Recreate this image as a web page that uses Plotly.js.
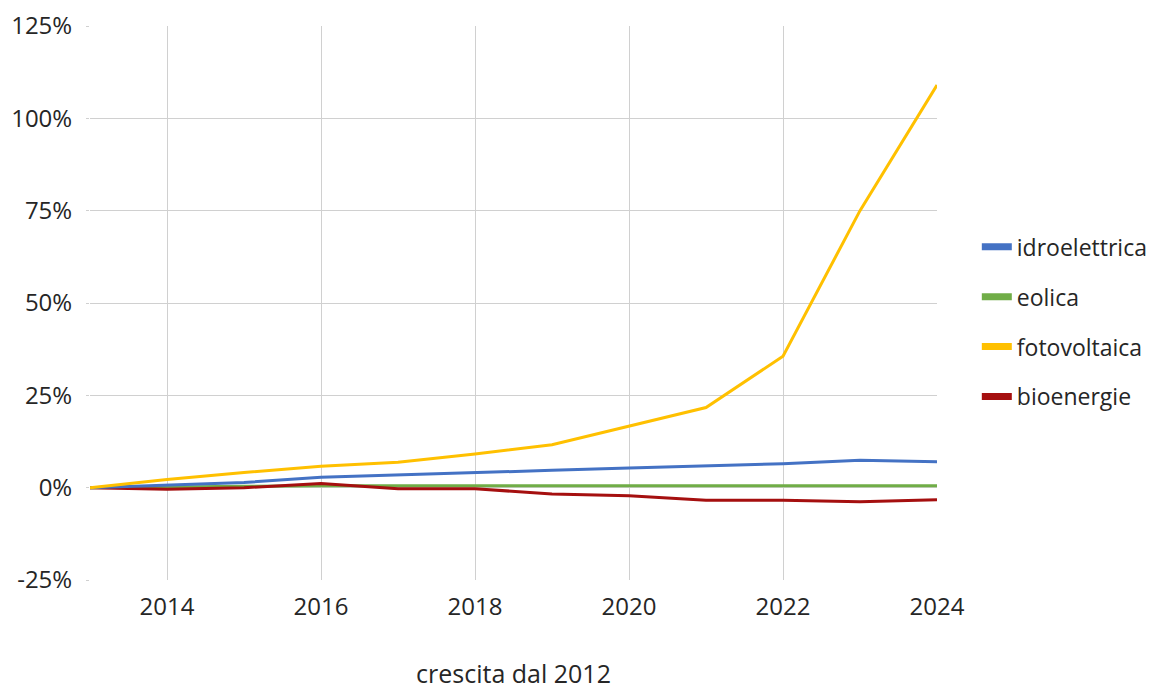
<!DOCTYPE html>
<html>
<head>
<meta charset="utf-8">
<script src="https://cdn.plot.ly/plotly-3.0.1.min.js"></script>
<style>html,body{margin:0;padding:0;background:#fff;}#chart{width:1166px;height:690px;}</style>
</head>
<body>
<div id="chart"></div>
<script>
const years = [2013, 2014, 2015, 2016, 2017, 2018, 2019, 2020, 2021, 2022, 2023, 2024];
const idroelettrica = [0, 0.6, 1.4, 2.8, 3.5, 4.2, 4.7, 5.3, 5.8, 6.5, 7.4, 7.0];
const eolica = [0, 0.3, 0.4, 0.5, 0.5, 0.5, 0.5, 0.5, 0.5, 0.5, 0.5, 0.5];
const fotovoltaica = [0, 2.2, 4.1, 5.8, 6.9, 9.1, 11.6, 16.6, 21.7, 35.6, 75.0, 109.0];
const bioenergie = [0, -0.4, 0, 1.1, -0.3, -0.3, -1.7, -2.2, -3.4, -3.4, -3.8, -3.3];
const seriesNames = ['idroelettrica', 'eolica', 'fotovoltaica', 'bioenergie'];
const seriesColors = ['#4472C4', '#70AD47', '#FFC000', '#A50F0F'];
const xTicks = [2014, 2016, 2018, 2020, 2022, 2024];
const yTicks = [-25, 0, 25, 50, 75, 100, 125];
const yTickLabels = ['-25%', '0%', '25%', '50%', '75%', '100%', '125%'];
const xTitle = 'crescita dal 2012';

const values = [idroelettrica, eolica, fotovoltaica, bioenergie];
// draw order: eolica, bioenergie underneath
const drawOrder = [1, 3, 0, 2];
const traces = drawOrder.map(i => ({
  x: years, y: values[i], name: seriesNames[i], type: 'scatter', mode: 'lines',
  line: {color: seriesColors[i], width: 3}, showlegend: false, hoverinfo: 'skip'
}));
// legend entries (thicker swatches, as in the reference)
seriesNames.forEach((n, i) => traces.push({
  x: [null], y: [null], name: n, type: 'scatter', mode: 'lines',
  line: {color: seriesColors[i], width: 7}, legendgroup: n, showlegend: true
}));

const fontFam = 'Open Sans, Noto Sans, sans-serif';
const txt = '#262626';
const grid = '#d0d0d0';
const layout = {
  width: 1166, height: 690,
  margin: {l: 90, r: 229, t: 26, b: 110},
  paper_bgcolor: '#fff', plot_bgcolor: '#fff',
  font: {family: fontFam, size: 24, color: txt},
  showlegend: true,
  legend: {x: 1.047, xanchor: 'left', y: 0.466, yanchor: 'middle',
           traceorder: 'grouped', tracegroupgap: 17,
           font: {family: fontFam, size: 23, color: txt}, itemwidth: 30},
  xaxis: {range: [2013, 2024], tickvals: xTicks, ticktext: xTicks.map(String),
          showgrid: true, gridcolor: grid, gridwidth: 1, zeroline: false, showline: false,
          ticks: '', tickfont: {size: 24, color: txt}, ticklabelstandoff: 10,
          title: {text: xTitle, font: {size: 25, color: txt}, standoff: 52}},
  yaxis: {range: [-25, 125], tickvals: yTicks, ticktext: yTickLabels,
          showgrid: true, gridcolor: grid, gridwidth: 1, zeroline: false, showline: false,
          ticks: 'outside', ticklen: 3, tickcolor: grid, tickwidth: 1,
          ticklabelstandoff: 9, tickfont: {size: 24, color: txt}},
};
Plotly.newPlot('chart', traces, layout, {displayModeBar: false, staticPlot: true});
</script>
</body>
</html>
